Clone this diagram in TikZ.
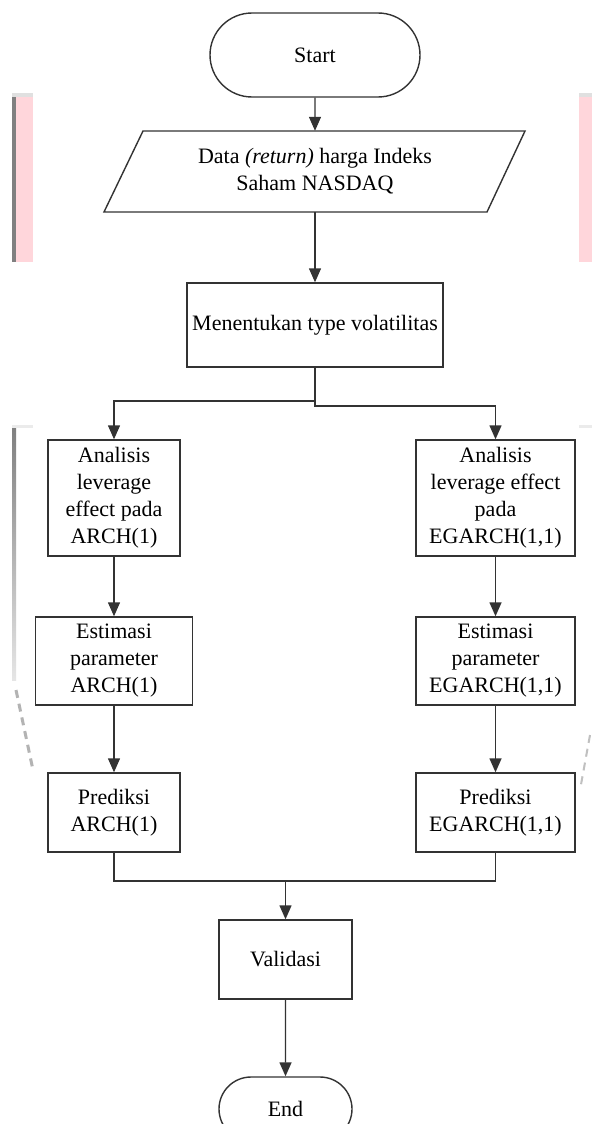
\documentclass[tikz,border=0pt]{standalone}
\usepackage{fontspec}
\setmainfont{Liberation Serif}
\usetikzlibrary{arrows.meta,shapes.misc}
\definecolor{linec}{HTML}{333333}
\definecolor{pinkart}{HTML}{FFD6DB}
\definecolor{grayart}{HTML}{808080}
\tikzset{
  box/.style={draw=linec, line width=1.4pt, rectangle, inner sep=0pt, align=center,
    font=\fontsize{22}{27}\selectfont, text=black},
  term/.style={draw=linec, line width=1.4pt, rounded rectangle, inner sep=0pt, align=center,
    font=\fontsize{22}{27}\selectfont, text=black},
  txt/.style={inner sep=0pt, align=center, font=\fontsize{22}{27}\selectfont, text=black},
  conn/.style={draw=linec, line width=1.4pt},
  arr/.style={conn, -{Triangle[length=14pt,width=12pt]}}
}
\begin{document}
\begin{tikzpicture}[x=1pt,y=-1pt]
\useasboundingbox[fill=white] (0,0) rectangle (592,1124);
\begin{scope}
\clip (0,0) rectangle (592,1124);
% scan artifacts
\fill[pinkart] (16,93) rectangle (33,262);
\fill[grayart] (12,93) rectangle (16,262);
\fill[black!12] (12,93) rectangle (33,97);
\fill[pinkart] (579,93) rectangle (592,262);
\fill[black!12] (579,93) rectangle (592,97);
\fill[black!8] (12,425) rectangle (33,428);
\fill[black!8] (579,425) rectangle (592,428);
\shade[top color=grayart, bottom color=black!10] (12,428) rectangle (16,680);
\draw[grayart!60, line width=3pt, dash pattern=on 8pt off 6pt] (16,690) -- (33,770);
\draw[grayart!50, line width=2pt, dash pattern=on 8pt off 6pt] (590,735) -- (580,790);

% nodes
\node[term, minimum width=210, minimum height=84] (start) at (315,55) {Start};
\node[txt, minimum width=383, minimum height=81] (data) at (315,171.5) {Data \textit{(return)} harga Indeks\\Saham NASDAQ};
\draw[conn] (143,131) -- (525,131) -- (487,212) -- (104,212) -- cycle;
\node[box, minimum width=256, minimum height=84] (men) at (315,325) {Menentukan type volatilitas};

\node[box, minimum width=132, minimum height=116] (l1) at (114,498) {Analisis\\leverage\\effect pada\\ARCH(1)};
\node[box, minimum width=157, minimum height=88] (l2) at (114,661) {Estimasi\\parameter\\ARCH(1)};
\node[box, minimum width=132, minimum height=79] (l3) at (114,812.5) {Prediksi\\ARCH(1)};

\node[box, minimum width=159, minimum height=116] (r1) at (495.5,498) {Analisis\\leverage effect\\pada\\EGARCH(1,1)};
\node[box, minimum width=159, minimum height=88] (r2) at (495.5,661) {Estimasi\\parameter\\EGARCH(1,1)};
\node[box, minimum width=159, minimum height=79] (r3) at (495.5,812.5) {Prediksi\\EGARCH(1,1)};

\node[box, minimum width=133, minimum height=79] (val) at (285.5,959.5) {Validasi};
\node[term, minimum width=133, minimum height=64] (end) at (285.5,1109) {End};

% coordinates
\coordinate (splitL) at (114,401);
\coordinate (splitR) at (495.5,406);
\coordinate (joinL) at (114,881);
\coordinate (joinR) at (495.5,881);

% connectors
\draw[arr] (start) -- (data);
\draw[arr] (data.south) -- (men.north);
\draw[arr] (men.south) |- (splitR) -- (r1.north);
\draw[arr] (men.south |- splitL) -- (splitL) -- (l1.north);
\draw[arr] (l1) -- (l2);
\draw[arr] (l2) -- (l3);
\draw[arr] (r1) -- (r2);
\draw[arr] (r2) -- (r3);
\draw[conn] (l3.south) -- (joinL) -- (joinR) -- (r3.south);
\draw[arr] (val.north |- joinL) -- (val.north);
\draw[arr] (val) -- (end);
\end{scope}
\end{tikzpicture}
\end{document}
